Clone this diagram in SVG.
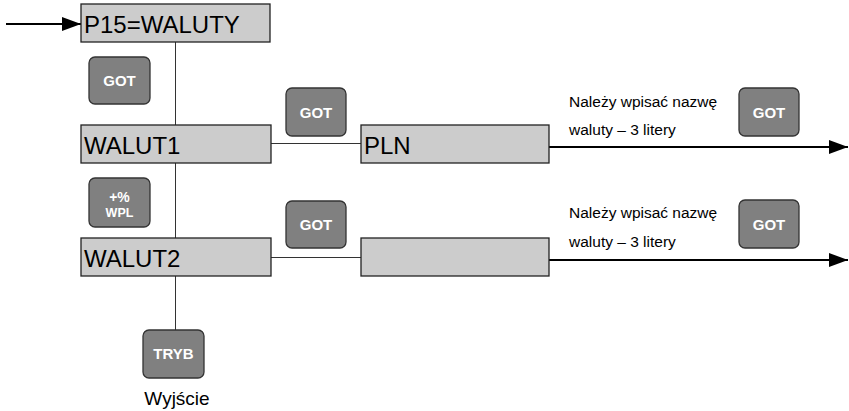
<svg xmlns="http://www.w3.org/2000/svg" width="849" height="411" viewBox="0 0 849 411">
<style>
.box{fill:#cccccc;stroke:#222;stroke-width:1.3}
.btn{fill:#808080;stroke:#333;stroke-width:1.3}
.lbl{font-family:"Liberation Sans",Arial,sans-serif;font-size:24px;fill:#000}
.bt{font-family:"Liberation Sans",Arial,sans-serif;font-weight:bold;font-size:15px;fill:#fff;text-anchor:middle}
.note{font-family:"Liberation Sans",Arial,sans-serif;font-size:15.5px;fill:#000}
.thin{stroke:#333;stroke-width:1;fill:none}
.arr{stroke:#000;stroke-width:2;fill:none;marker-end:url(#ah)}
</style>
<defs>
<marker id="ah" markerUnits="userSpaceOnUse" markerWidth="20" markerHeight="14" refX="19" refY="7" orient="auto">
<path d="M0,0 L19,7 L0,14 z" fill="#000"/>
</marker>
</defs>
<g id="connectors">
<line class="thin" x1="175.5" y1="42" x2="175.5" y2="125"/>
<line class="thin" x1="175.5" y1="163" x2="175.5" y2="238"/>
<line class="thin" x1="175.5" y1="276" x2="175.5" y2="330"/>
<line class="thin" x1="271" y1="143.5" x2="361" y2="143.5"/>
<line class="thin" x1="271" y1="257.5" x2="361" y2="257.5"/>
<path class="arr" d="M6,24 L81,24"/>
<path class="arr" d="M549,147 L848,147"/>
<path class="arr" d="M549,260 L848,260"/>
</g>
<g id="p15">
<rect class="box" x="81" y="4" width="189" height="38"/>
<text class="lbl" x="84" y="33">P15=WALUTY</text>
</g>
<g id="walut1">
<rect class="box" x="81" y="125" width="190" height="38"/>
<text class="lbl" x="84" y="154">WALUT1</text>
</g>
<g id="walut2">
<rect class="box" x="81" y="238" width="190" height="38"/>
<text class="lbl" x="84" y="267">WALUT2</text>
</g>
<g id="pln">
<rect class="box" x="361" y="125" width="188" height="38"/>
<text class="lbl" x="364" y="154">PLN</text>
</g>
<g id="empty">
<rect class="box" x="361" y="238" width="188" height="38"/>
</g>
<g id="btn-got0">
<rect class="btn" x="89" y="57" width="61" height="47" rx="6"/>
<text class="bt" x="119.5" y="86">GOT</text>
</g>
<g id="btn-wpl">
<rect class="btn" x="89" y="178" width="61" height="49" rx="6"/>
<text class="bt" x="119.5" y="202" style="font-size:14px">+%</text>
<text class="bt" x="119.5" y="217" style="font-size:12.5px">WPL</text>
</g>
<g id="btn-got1">
<rect class="btn" x="286" y="88" width="60" height="48" rx="6"/>
<text class="bt" x="316" y="118">GOT</text>
</g>
<g id="btn-got2">
<rect class="btn" x="286" y="201" width="60" height="47" rx="6"/>
<text class="bt" x="316" y="230">GOT</text>
</g>
<g id="btn-got3">
<rect class="btn" x="739" y="88" width="60" height="48" rx="6"/>
<text class="bt" x="769" y="118">GOT</text>
</g>
<g id="btn-got4">
<rect class="btn" x="739" y="200" width="60" height="48" rx="6"/>
<text class="bt" x="769" y="230">GOT</text>
</g>
<g id="btn-tryb">
<rect class="btn" x="143" y="330" width="61" height="48" rx="6"/>
<text class="bt" x="173.5" y="359">TRYB</text>
</g>
<g id="note1">
<text class="note" x="569" y="107">Należy wpisać nazwę</text>
<text class="note" x="569" y="135">waluty – 3 litery</text>
</g>
<g id="note2">
<text class="note" x="569" y="218">Należy wpisać nazwę</text>
<text class="note" x="569" y="247">waluty – 3 litery</text>
</g>
<g id="exit">
<text class="lbl" x="177" y="405" style="font-size:19px;text-anchor:middle">Wyjście</text>
</g>
</svg>
